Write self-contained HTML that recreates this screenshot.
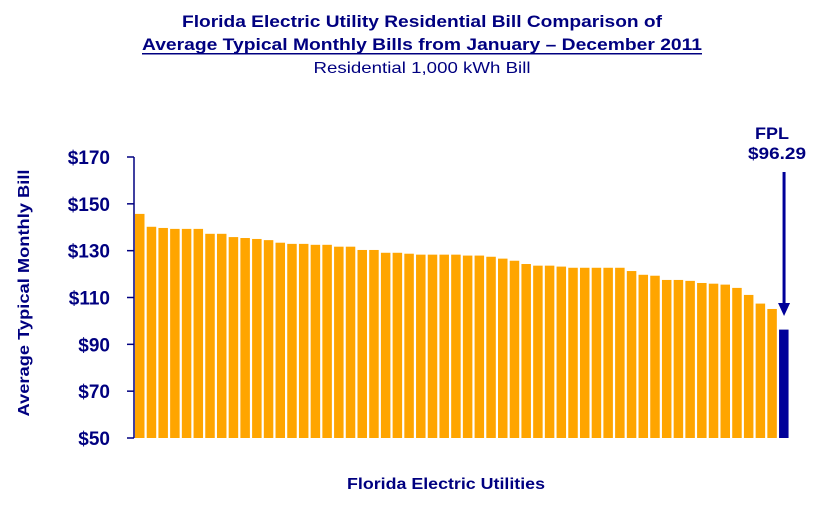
<!DOCTYPE html>
<html><head><meta charset="utf-8"><style>
body{margin:0;background:#fff;font-family:"Liberation Sans",Arial,sans-serif}
</style></head><body>
<div style="position:relative;width:822px;height:505px;overflow:hidden">
<svg id="svg" width="822" height="505" style="position:absolute;left:0;top:0">
<g font-family="Liberation Sans, Arial, sans-serif" fill="#000080" text-anchor="middle">
<text x="422" y="27" font-size="17" font-weight="bold" textLength="480" lengthAdjust="spacingAndGlyphs">Florida Electric Utility Residential Bill Comparison of</text>
<text x="422" y="50" font-size="17" font-weight="bold" textLength="560" lengthAdjust="spacingAndGlyphs">Average Typical Monthly Bills from January – December 2011</text>
<rect x="142" y="53" width="560" height="1.5" fill="#000080"/>
<text x="422" y="73" font-size="16" textLength="217" lengthAdjust="spacingAndGlyphs">Residential 1,000 kWh Bill</text>
</g>
</svg>
</div>
<script>
const categories = Array.from({length:56},(_,i)=>i===55?'FPL':'Utility '+(i+1));
const values = [145.7,140.2,139.7,139.3,139.3,139.3,137.2,137.2,135.8,135.4,135.0,134.5,133.4,132.9,132.9,132.5,132.5,131.7,131.7,130.3,130.3,129.1,129.1,128.7,128.3,128.3,128.3,128.3,
127.9,127.9,127.4,126.6,125.7,124.3,123.6,123.6,123.2,122.7,122.7,122.7,122.7,122.7,121.3,119.7,119.3,117.5,117.5,117.1,116.2,115.9,115.5,114.1,111.1,107.4,105.1,96.29];
const ticks = [50,70,90,110,130,150,170];
const ns='http://www.w3.org/2000/svg', svg=document.getElementById('svg');
const x0=134,pitch=11.71,yTop=157,yBot=438,vMin=50,vMax=170;
const y=v=>yBot-(v-vMin)/(vMax-vMin)*(yBot-yTop);
const xs=i=>x0+1+i*pitch;
const FF='Liberation Sans, Arial, sans-serif';
function mk(t,a){const e=document.createElementNS(ns,t);for(const k in a)e.setAttribute(k,a[k]);svg.appendChild(e);return e;}
values.forEach((v,i)=>{
 const r=mk('rect',{x:xs(i),y:y(v),width:9.5,height:yBot-y(v),fill:i===55?'#000099':'#FFA500'});
 
 
});
const ax=mk('line',{x1:x0,y1:yTop,x2:x0,y2:yBot,stroke:'#000080','stroke-width':1.5});


ticks.forEach(t=>{
 mk('line',{x1:x0-7,y1:y(t),x2:x0,y2:y(t),stroke:'#000080','stroke-width':1.5});
 const tx=mk('text',{x:110,y:y(t)+7,'text-anchor':'end','font-size':19,'font-weight':'bold',fill:'#000080','font-family':FF});
 tx.textContent='$'+t;
 
 
});
const fx=xs(55)+5;
mk('line',{x1:fx,y1:172,x2:fx,y2:305,stroke:'#000099','stroke-width':3});
const ah=mk('polygon',{points:`${fx-6},303 ${fx+6},303 ${fx},316`,fill:'#000099'});


const l1=mk('text',{x:772,y:139,'text-anchor':'middle','font-size':17,'font-weight':'bold',fill:'#000080','font-family':FF,textLength:34,lengthAdjust:'spacingAndGlyphs'});
l1.textContent='FPL';


const l2=mk('text',{x:777,y:159,'text-anchor':'middle','font-size':17,'font-weight':'bold',fill:'#000080','font-family':FF,textLength:58,lengthAdjust:'spacingAndGlyphs'});
l2.textContent='$'+values[55].toFixed(2);


const yt=mk('text',{x:0,y:0,transform:'translate(29,293) rotate(-90)','text-anchor':'middle','font-size':16,'font-weight':'bold',fill:'#000080','font-family':FF,textLength:247,lengthAdjust:'spacingAndGlyphs'});
yt.textContent='Average Typical Monthly Bill';


const xt=mk('text',{x:446,y:489,'text-anchor':'middle','font-size':16,'font-weight':'bold',fill:'#000080','font-family':FF,textLength:198,lengthAdjust:'spacingAndGlyphs'});
xt.textContent='Florida Electric Utilities';


</script>
</body></html>
